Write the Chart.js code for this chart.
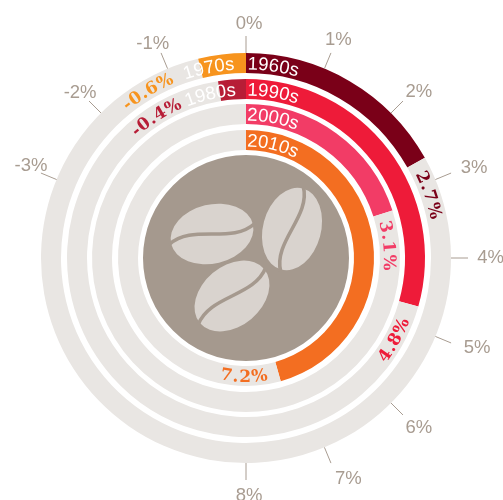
<!DOCTYPE html>
<html>
<head>
<meta charset="utf-8">
<style>
  html, body { margin: 0; padding: 0; background: #fff; overflow: hidden; }
  canvas { display: block; }
</style>
<script src="https://cdn.jsdelivr.net/npm/chart.js@4"></script>
</head>
<body>
<canvas id="chart" width="503" height="500"></canvas>
<script>
// axis runs -8%..8% round the whole circle, 0 at the top
const fullScale = 16;
const tickValues = [0, 1, 2, 3, 4, 5, 6, 7, 8, -3, -2, -1];

const gainDecades = ["1960s", "1990s", "2000s", "2010s"];
const gainValues = [2.7, 4.7, 3.2, 7.3];
const gainLabels = ["2.7%", "4.8%", "3.1%", "7.2%"];
const gainColors = ["#7a0018", "#ee1b39", "#f23c66", "#f36e21"];

const lossDecades = ["1970s", "1980s", "", ""];
const lossValues = [0.6, 0.4, 0, 0];
const lossLabels = ["-0.6%", "-0.4%", "", ""];
const lossColors = ["#f7941e", "#b71d36", "#e9e6e3", "#e9e6e3"];

const trackColor = "#e9e6e3";
const diskColor = "#a5998e";
const beanColor = "#d9d3ce";
const tickColor = "#a89c91";

const ringWeights = [20, 20, 20, 20];
const gapWeights = [6, 5, 6, 5];
const diskWeight = 103;

// the tick labels were placed by hand in the original
const tickNudgeX = [3, 2, 6, 10, 8.5, 13, 6, 12, 3, 3, 1, -3];
const tickNudgeY = [1, -1, 0, -1, -1, -1, 2, 2, 1, -3, 1, 3];

const datasets = [];
gainValues.forEach((gain, i) => {
  datasets.push({
    data: [gain, fullScale - gain - lossValues[i], lossValues[i]],
    backgroundColor: [gainColors[i], trackColor, lossColors[i]],
    weight: ringWeights[i],
    borderWidth: 0,
  });
  datasets.push({data: [1], backgroundColor: ["rgba(0,0,0,0)"], weight: gapWeights[i], borderWidth: 0});
});
datasets.push({data: [1], backgroundColor: [diskColor], weight: diskWeight, borderWidth: 0});

function toRad(value) {
  return value / fullScale * Math.PI * 2;
}

// writes a string letter by letter along a circle. angle in radians, 0 = top
function arcText(ctx, str, cx, cy, r, angle, opts) {
  const spacing = opts.spacing || 0;
  const widths = [...str].map(ch => ctx.measureText(ch).width + spacing);
  const total = widths.reduce((a, b) => a + b, 0);
  const dir = opts.flip ? -1 : 1;
  let start = angle;
  if (opts.anchor === "end") start = angle - dir * total / r;
  if (opts.anchor === "middle") start = angle - dir * total / 2 / r;
  let acc = 0;
  [...str].forEach((ch, i) => {
    const a = start + dir * (acc + widths[i] / 2) / r;
    ctx.save();
    ctx.translate(cx + r * Math.sin(a), cy - r * Math.cos(a));
    ctx.rotate(opts.flip ? a + Math.PI : a);
    ctx.textAlign = "center";
    ctx.textBaseline = "alphabetic";
    ctx.fillText(ch, 0, 0);
    ctx.restore();
    acc += widths[i];
  });
}

function bean(ctx, x, y, rot, long, short) {
  ctx.save();
  ctx.translate(x, y);
  ctx.rotate(rot);
  ctx.fillStyle = beanColor;
  ctx.beginPath();
  ctx.ellipse(0, 0, long, short, 0, 0, Math.PI * 2);
  ctx.fill();
  ctx.strokeStyle = diskColor;
  ctx.lineWidth = 3.6;
  ctx.beginPath();
  ctx.moveTo(-long - 2, 0);
  ctx.bezierCurveTo(-long * 0.4, -15, long * 0.4, 15, long + 2, 0);
  ctx.stroke();
  ctx.restore();
}

const overlayPlugin = {
  id: "overlay",
  afterDatasetsDraw(chart) {
    const ctx = chart.ctx;
    const first = chart.getDatasetMeta(0).data[0];
    const cx = first.x;
    const cy = first.y;
    const outer = first.outerRadius;

    // ticks and their labels
    ctx.save();
    ctx.strokeStyle = tickColor;
    ctx.lineWidth = 1;
    ctx.fillStyle = tickColor;
    ctx.font = "18.5px 'Liberation Sans'";
    ctx.textAlign = "center";
    ctx.textBaseline = "middle";
    tickValues.forEach((v, i) => {
      const a = toRad(v);
      const s = Math.sin(a);
      const c = Math.cos(a);
      ctx.beginPath();
      ctx.moveTo(cx + outer * s, cy - outer * c);
      ctx.lineTo(cx + (outer + 17) * s, cy - (outer + 17) * c);
      ctx.stroke();
      ctx.fillText(v + "%", cx + 236 * s + tickNudgeX[i], cy - 236 * c + tickNudgeY[i] + 1);
    });
    ctx.restore();

    // decade names, sitting on the inner edge of each ring
    ctx.save();
    ctx.fillStyle = "#fff";
    ctx.font = "18.5px 'Liberation Sans'";
    gainDecades.forEach((name, i) => {
      const arc = chart.getDatasetMeta(i * 2).data[0];
      const r = arc.innerRadius + 3.5;
      arcText(ctx, name, cx, cy, r, 0.008, {anchor: "start"});
      if (lossDecades[i]) {
        arcText(ctx, lossDecades[i], cx, cy, r, -0.06, {anchor: "end"});
      }
    });
    ctx.restore();

    // value labels
    ctx.save();
    ctx.font = "bold 17px 'DejaVu Serif'";
    const gainAngle = [71, 119, 85, 181];
    const gainFlip = [false, true, false, true];
    gainLabels.forEach((label, i) => {
      const arc = chart.getDatasetMeta(i * 2).data[0];
      ctx.fillStyle = gainColors[i];
      const r = gainFlip[i] ? arc.outerRadius - 4 : arc.innerRadius + 4;
      arcText(ctx, label, cx, cy, r, gainAngle[i] * Math.PI / 180, {anchor: "middle", flip: gainFlip[i], spacing: 1});
    });
    const lossAngle = [-30.5, -32.5];
    lossLabels.forEach((label, i) => {
      if (!label) return;
      const arc = chart.getDatasetMeta(i * 2).data[0];
      ctx.fillStyle = lossColors[i];
      arcText(ctx, label, cx, cy, arc.innerRadius + 4, lossAngle[i] * Math.PI / 180, {anchor: "middle", spacing: 0.5});
    });
    ctx.restore();

    // the beans in the middle
    bean(ctx, cx - 34, cy - 24, -0.24, 42, 29.5);
    bean(ctx, cx + 46, cy - 29, -1.31, 42, 29);
    bean(ctx, cx - 14, cy + 38, -0.7, 42, 30);
  },
};

new Chart(document.getElementById("chart"), {
  type: "doughnut",
  data: {datasets},
  options: {
    responsive: false,
    animation: false,
    events: [],
    cutout: 0,
    layout: {padding: {left: 41, right: 52, top: 53, bottom: 37}},
    plugins: {legend: {display: false}, tooltip: {enabled: false}},
  },
  plugins: [overlayPlugin],
});
</script>
</body>
</html>
